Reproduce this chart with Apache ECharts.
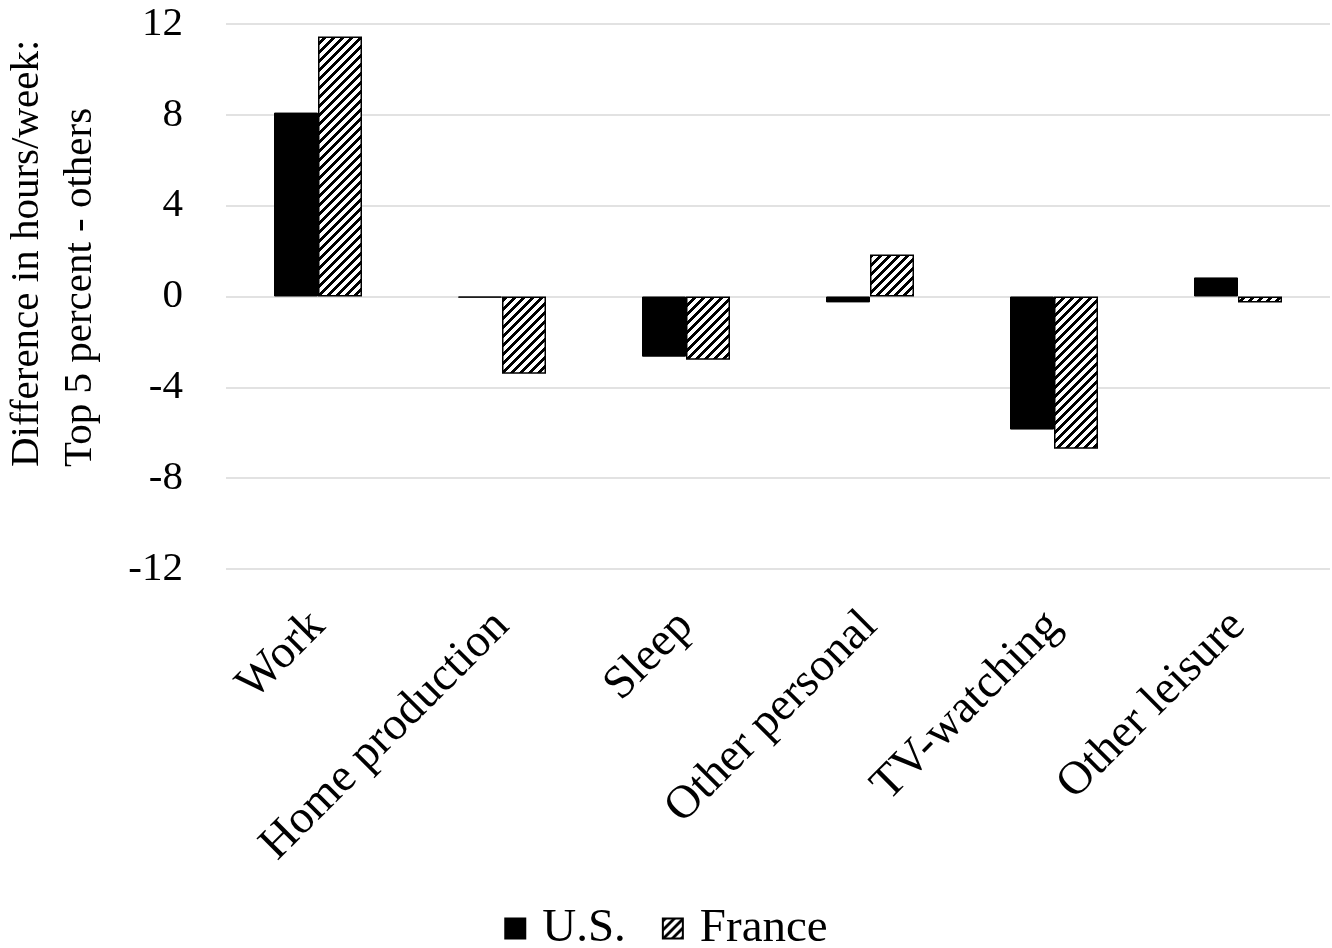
<!DOCTYPE html>
<html>
<head>
<meta charset="utf-8">
<script src="https://cdn.jsdelivr.net/npm/echarts@6/dist/echarts.min.js"></script>
<style>
html,body{margin:0;padding:0;background:#fff;}
#chart{width:1332px;height:948px;}
</style>
</head>
<body>
<div id="chart"></div>
<script>
const categories = ['Work', 'Home production', 'Sleep', 'Other personal', 'TV-watching', 'Other leisure'];
const usValues = [8.1, -0.05, -2.65, -0.26, -5.86, 0.84];
const franceValues = [11.45, -3.4, -2.78, 1.85, -6.7, -0.26];
const yMin = -12, yMax = 12, yStep = 4;
const seriesNames = ['U.S.', 'France'];
const yTitle = 'Difference in hours/week:\nTop 5 percent - others';

// crisp diagonal hatch pattern ("/" stripes)
const pc = document.createElement('canvas');
const S = 9;
pc.width = S; pc.height = S;
const ctx = pc.getContext('2d');
const img = ctx.createImageData(S, S);
for (let y = 0; y < S; y++) {
  for (let x = 0; x < S; x++) {
    const k = (x + y) % S;
    const v = k < 4 ? 0 : 255;
    const i = (y * S + x) * 4;
    img.data[i] = v; img.data[i + 1] = v; img.data[i + 2] = v; img.data[i + 3] = 255;
  }
}
ctx.putImageData(img, 0, 0);

const FONT = 'Liberation Serif';
const chart = echarts.init(document.getElementById('chart'), null, {renderer: 'canvas'});
chart.setOption({
  animation: false,
  backgroundColor: '#fff',
  grid: {left: 226, right: 2, top: 24, bottom: 379, containLabel: false},
  legend: {
    data: seriesNames,
    left: 'center',
    top: 900,
    itemWidth: 20,
    itemHeight: 20,
    itemGap: 36,
    textStyle: {fontFamily: FONT, fontSize: 47, color: '#000', padding: [0, 0, 0, 12]},
    icon: 'rect'
  },
  xAxis: {
    type: 'category',
    data: categories,
    axisLine: {show: false, onZero: false},
    axisTick: {show: false},
    axisLabel: {rotate: 45, margin: 50, fontFamily: FONT, fontSize: 47, color: '#000', interval: 0}
  },
  yAxis: {
    type: 'value',
    min: yMin, max: yMax, interval: yStep,
    axisLine: {show: false},
    axisTick: {show: false},
    splitLine: {lineStyle: {color: '#d9d9d9', width: 1.5}},
    axisLabel: {margin: 43, fontFamily: FONT, fontSize: 41, color: '#000'}
  },
  graphic: [{
    type: 'text',
    x: 54, y: 467,
    rotation: Math.PI / 2,
    style: {
      text: yTitle,
      fontFamily: FONT, fontSize: 41, fill: '#000',
      align: 'left', verticalAlign: 'middle', lineHeight: 53
    }
  }],
  series: [
    {
      name: seriesNames[0], type: 'bar', data: usValues,
      barWidth: 44, barGap: '0%',
      itemStyle: {color: '#000', borderColor: '#000', borderWidth: 1}
    },
    {
      name: seriesNames[1], type: 'bar', data: franceValues,
      barWidth: 44, barGap: '0%',
      itemStyle: {color: {image: pc, repeat: 'repeat'}, borderColor: '#000', borderWidth: 1.5}
    }
  ]
});
</script>
</body>
</html>
